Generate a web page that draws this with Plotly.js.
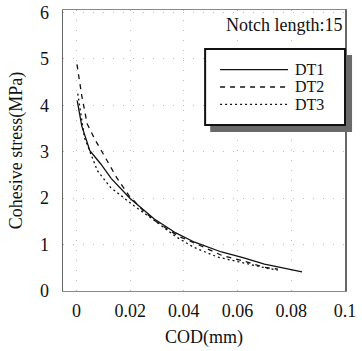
<!DOCTYPE html>
<html><head><meta charset="utf-8">
<script src="https://cdn.plot.ly/plotly-3.0.1.min.js"></script>
<style>html,body{margin:0;padding:0;background:#fff}#c{width:362px;height:351px}</style>
</head><body><div id="c"></div>
<script>
const dt1X = [0.0003, 0.002, 0.005, 0.009, 0.013, 0.020, 0.029, 0.037, 0.044, 0.054, 0.062, 0.070, 0.075, 0.081, 0.084];
const dt1Y = [4.10, 3.55, 3.02, 2.74, 2.42, 1.99, 1.55, 1.25, 1.05, 0.84, 0.72, 0.58, 0.52, 0.45, 0.41];
const dt2X = [0.0002, 0.002, 0.004, 0.007, 0.010, 0.015, 0.0195, 0.025, 0.030, 0.038, 0.046, 0.054, 0.062, 0.070, 0.075];
const dt2Y = [4.88, 4.20, 3.60, 3.25, 2.95, 2.44, 2.06, 1.72, 1.48, 1.18, 0.98, 0.77, 0.65, 0.51, 0.47];
const dt3X = [0.0005, 0.003, 0.0078, 0.0127, 0.0213, 0.030, 0.037, 0.0437, 0.0526, 0.062, 0.071, 0.075];
const dt3Y = [4.25, 3.30, 2.59, 2.23, 1.84, 1.48, 1.17, 0.94, 0.73, 0.60, 0.49, 0.45];
const xTicks = [0, 0.02, 0.04, 0.06, 0.08, 0.1];
const xTickText = ['0', '0.02', '0.04', '0.06', '0.08', '0.1'];
const yTicks = [0, 1, 2, 3, 4, 5, 6];
const seriesNames = ['DT1', 'DT2', 'DT3'];
const noteText = 'Notch length:15';

const font = 'Liberation Serif';
const dashes = ['solid', '5px,5px', '2px,3px'];
const traces = [
  {x: dt1X, y: dt1Y, name: seriesNames[0], mode: 'lines', line: {color: '#111', width: 1.3, dash: dashes[0]}},
  {x: dt2X, y: dt2Y, name: seriesNames[1], mode: 'lines', line: {color: '#111', width: 1.3, dash: dashes[1]}},
  {x: dt3X, y: dt3Y, name: seriesNames[2], mode: 'lines', line: {color: '#111', width: 1.3, dash: dashes[2]}}
];

// manual legend (box with drop shadow)
const legRows = [0.788, 0.726, 0.664];
const shapes = [
  {type: 'rect', xref: 'paper', yref: 'paper', x0: 0.522, x1: 1.025, y0: 0.566, y1: 0.84,
   fillcolor: '#6a6a6a', line: {width: 0}, layer: 'above'},
  {type: 'rect', xref: 'paper', yref: 'paper', x0: 0.504, x1: 1.0, y0: 0.591, y1: 0.861,
   fillcolor: '#fff', line: {color: '#111', width: 2}, layer: 'above'}
];
const annotations = [
  {text: noteText, xref: 'paper', yref: 'paper', x: 0.995, y: 0.99, xanchor: 'right', yanchor: 'top',
   showarrow: false, font: {family: font, size: 18, color: '#111'}}
];
seriesNames.forEach((n, i) => {
  shapes.push({type: 'line', xref: 'paper', yref: 'paper', x0: 0.557, x1: 0.798, y0: legRows[i], y1: legRows[i],
    line: {color: '#111', width: 1.3, dash: dashes[i]}, layer: 'above'});
  annotations.push({text: n, xref: 'paper', yref: 'paper', x: 0.818, y: legRows[i], xanchor: 'left', yanchor: 'middle',
    showarrow: false, borderpad: 0, font: {family: font, size: 16, color: '#111'}});
});

const layout = {
  width: 362, height: 351,
  margin: {l: 63, r: 17, t: 10, b: 60},
  paper_bgcolor: '#fff', plot_bgcolor: '#fff',
  font: {family: font, size: 18, color: '#111'},
  showlegend: false,
  xaxis: {range: [-0.005, 0.1], tickvals: xTicks, ticktext: xTickText,
    showgrid: true, gridcolor: '#bbb', griddash: '1px,9px', gridwidth: 1,
    zeroline: false, showline: true, linecolor: '#888', linewidth: 1, mirror: true,
    ticks: '', ticklabelstandoff: 3, tickfont: {family: font, size: 18},
    title: {text: 'COD(mm)', font: {family: font, size: 18}, standoff: 10}},
  yaxis: {range: [0, 6.05], tickvals: yTicks,
    showgrid: true, gridcolor: '#bbb', griddash: '1px,9px', gridwidth: 1,
    zeroline: false, showline: true, linecolor: '#666', linewidth: 1.5, mirror: true,
    ticks: '', ticklabelstandoff: 9, tickfont: {family: font, size: 18},
    title: {text: 'Cohesive stress(MPa)', font: {family: font, size: 18}, standoff: 12}},
  shapes: shapes,
  annotations: annotations
};
Plotly.newPlot('c', traces, layout, {displayModeBar: false, staticPlot: true});
</script></body></html>
